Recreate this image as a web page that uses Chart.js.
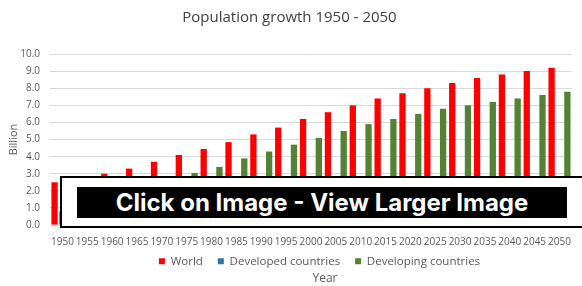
<!DOCTYPE html>
<html>
<head>
<meta charset="utf-8">
<script src="https://cdn.jsdelivr.net/npm/chart.js@4.4.1/dist/chart.umd.min.js"></script>
<style>
  html, body { margin: 0; padding: 0; background: #ffffff; overflow: hidden; }
  #wrap { position: relative; width: 582px; height: 286px; }
  #overlay { position: absolute; left: 60px; top: 176px; width: 540px; height: 48px;
    background: #ffffff; border: 2px solid #000000; }
  #overlay .inner { position: absolute; left: 15px; top: 9px; width: 490px; height: 31px;
    background: #000000; color: #ffffff; font-family: Inter, sans-serif; font-weight: 700;
    font-size: 24px; line-height: 31px; text-align: center; white-space: nowrap; }
  #yeartitle { position: absolute; left: 295px; width: 60px; top: 270px; text-align: center;
    font-family: "Open Sans", sans-serif; font-size: 12px; color: #595959; line-height: 16px; }
</style>
</head>
<body>
<div id="wrap">
  <canvas id="c" width="582" height="286"></canvas>
  <div id="overlay"><div class="inner">Click on Image - View Larger Image</div></div>
  <div id="yeartitle">Year</div>
</div>
<script>
const years = ["1950","1955","1960","1965","1970","1975","1980","1985","1990","1995","2000",
               "2005","2010","2015","2020","2025","2030","2035","2040","2045","2050"];
const world = [2.5, 2.8, 3.0, 3.3, 3.7, 4.1, 4.45, 4.85, 5.3, 5.7, 6.2,
               6.6, 7.0, 7.4, 7.7, 8.0, 8.3, 8.6, 8.8, 9.0, 9.2];
const developed = [0.8, 0.9, 0.9, 1.0, 1.0, 1.1, 1.1, 1.2, 1.2, 1.2, 1.2,
                   1.2, 1.2, 1.3, 1.3, 1.3, 1.3, 1.3, 1.3, 1.3, 1.3];
const developing = [1.7, 1.9, 2.1, 2.3, 2.7, 3.05, 3.4, 3.9, 4.3, 4.7, 5.1,
                    5.5, 5.9, 6.2, 6.5, 6.8, 7.0, 7.2, 7.4, 7.6, 7.8];
const seriesNames = ["World", "Developed countries", "Developing countries"];
const yTickMin = 0, yTickMax = 10, yTickStep = 1;

const FONT = "'Open Sans', sans-serif";

const legendShift = {
  id: 'legendShift',
  afterLayout(chart) {
    const lg = chart.legend;
    if (lg) { lg.left += 30; lg.right += 30; }
  }
};

new Chart(document.getElementById('c'), {
  type: 'bar',
  data: {
    labels: years,
    datasets: [
      { label: seriesNames[0], data: world, backgroundColor: '#ff0000' },
      { label: seriesNames[1], data: developed, backgroundColor: '#2e75b6' },
      { label: seriesNames[2], data: developing, backgroundColor: '#548235' }
    ]
  },
  options: {
    responsive: false,
    animation: false,
    devicePixelRatio: 1,
    categoryPercentage: 0.95,
    barPercentage: 0.8,
    layout: { padding: { left: 0, right: 3, top: 0, bottom: 9 } },
    plugins: {
      title: {
        display: true, text: 'Population growth 1950 - 2050',
        font: { family: FONT, size: 15, weight: 'normal' }, color: '#404040',
        padding: { top: 9, bottom: 27 }
      },
      legend: {
        position: 'bottom',
        labels: { boxWidth: 6, boxHeight: 6, padding: 15, color: '#595959',
          font: { family: FONT, size: 11.5 } }
      },
      tooltip: { enabled: false }
    },
    scales: {
      x: {
        grid: { display: false, drawTicks: false },
        border: { display: false },
        ticks: { color: '#595959', font: { family: FONT, size: 10 }, padding: 11,
                 maxRotation: 0, autoSkip: false },
        afterFit(s) {
          s.height = 15.4;
          s._computeLabelArea = function () { return undefined; };
        }
      },
      y: {
        min: yTickMin, max: yTickMax,
        grid: { color: '#d9d9d9', drawTicks: false },
        border: { display: false },
        ticks: { stepSize: yTickStep, color: '#595959', padding: 10,
                 font: { family: FONT, size: 10 },
                 callback: v => Number(v).toFixed(1) },
        title: { display: true, text: 'Billion', color: '#595959',
                 font: { family: FONT, size: 11 }, padding: { top: 7, bottom: 0 } },
        afterFit(s) { s.width = 50; }
      }
    }
  },
  plugins: [legendShift]
});
</script>
</body>
</html>
